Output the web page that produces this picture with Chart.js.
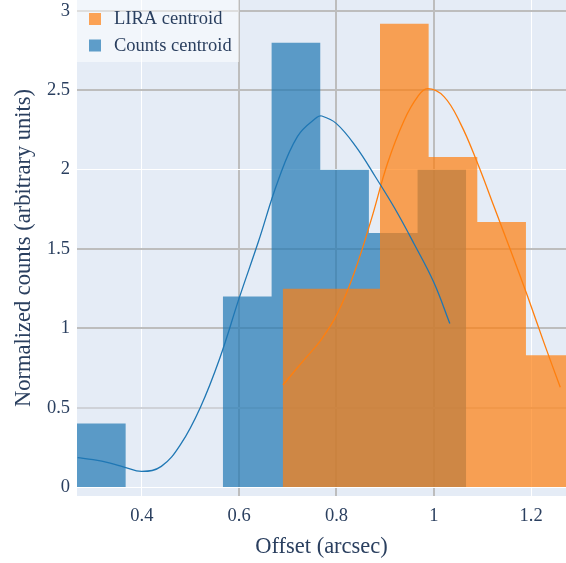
<!DOCTYPE html>
<html>
<head>
<meta charset="utf-8">
<script src="https://cdn.jsdelivr.net/npm/chart.js@4/dist/chart.umd.min.js"></script>
<style>
  html, body { margin: 0; padding: 0; background: #fff; }
  canvas { display: block; }
</style>
</head>
<body>
<canvas id="offsetChart" width="566" height="563"></canvas>
<script>
// histogram bin edges and normalized heights
const countsEdges = [0.2667, 0.3667, 0.4667, 0.5667, 0.6667, 0.7667, 0.8667, 0.9667, 1.0667];
const countsHeights = [0.4, 0, 0, 1.2, 2.8, 2.0, 1.6, 2.0];
const liraEdges = [0.6895, 0.7895, 0.8895, 0.9895, 1.0895, 1.1895, 1.2895];
const liraHeights = [1.25, 1.25, 2.92, 2.08, 1.67, 0.83];

// smoothed density curves
const countsKdeX = [0.268, 0.30, 0.335, 0.365, 0.40, 0.44, 0.48, 0.52, 0.56, 0.60, 0.64, 0.68, 0.72, 0.76, 0.77, 0.80, 0.84, 0.88, 0.92, 0.96, 1.00, 1.033];
const countsKdeY = [0.185, 0.172, 0.15, 0.124, 0.098, 0.13, 0.27, 0.5, 0.81, 1.19, 1.55, 1.93, 2.21, 2.33, 2.338, 2.29, 2.145, 1.955, 1.755, 1.53, 1.29, 1.03];
const liraKdeX = [0.69, 0.733, 0.768, 0.802, 0.836, 0.871, 0.905, 0.939, 0.967, 0.987, 1.021, 1.055, 1.09, 1.124, 1.158, 1.193, 1.227, 1.26];
const liraKdeY = [0.643, 0.80, 0.926, 1.094, 1.346, 1.68, 2.04, 2.31, 2.46, 2.51, 2.46, 2.29, 2.04, 1.766, 1.49, 1.2, 0.905, 0.628];

const xTicks = [0.4, 0.6, 0.8, 1, 1.2];
const yTicks = [0, 0.5, 1, 1.5, 2, 2.5, 3];

const textColor = "#2a3f5f";
const fontFamily = '"Liberation Serif", "Times New Roman", serif';
const blueFill = "rgba(31,119,180,0.7)";
const orangeFill = "rgba(255,127,14,0.7)";

// gridlines that show up darker in the picture
const darkX = [0.6, 0.8, 1];
const darkY = { 3: "#bdbdbd", 2.5: "#bdbdbd", 1.5: "#bdbdbd", 1: "#bdbdbd", 0.5: "#cfd2d8" };

function steps(edges, heights) {
  const pts = heights.map((h, i) => ({ x: edges[i], y: h }));
  pts.push({ x: edges[edges.length - 1], y: 0 });
  return pts;
}

function zip(xs, ys) {
  return xs.map((x, i) => ({ x: x, y: ys[i] }));
}

const plotBackground = {
  id: "plotBackground",
  beforeDraw(chart) {
    const { ctx, chartArea } = chart;
    ctx.save();
    ctx.fillStyle = "#E5ECF6";
    ctx.fillRect(chartArea.left, chartArea.top, chartArea.right - chartArea.left, chartArea.bottom - chartArea.top);
    ctx.restore();
  },
};

const legendBox = {
  id: "legendBox",
  afterDatasetsDraw(chart) {
    const { ctx, chartArea } = chart;
    const items = chart.data.datasets.filter((d) => d.fill);
    ctx.save();
    ctx.fillStyle = "rgba(255,255,255,0.5)";
    ctx.fillRect(chartArea.left, chartArea.top, 162, 62);
    ctx.font = "18.5px " + fontFamily;
    ctx.textBaseline = "middle";
    items.forEach((d, i) => {
      ctx.fillStyle = d.backgroundColor;
      ctx.fillRect(chartArea.left + 12, chartArea.top + 13 + i * 26.5, 12, 12);
      ctx.fillStyle = textColor;
      ctx.fillText(d.label, chartArea.left + 37, chartArea.top + 19.5 + i * 26.5);
    });
    ctx.restore();
  },
};

const ctx = document.getElementById("offsetChart");
new Chart(ctx, {
  type: "line",
  data: {
    datasets: [
      {
        label: "LIRA centroid",
        data: steps(liraEdges, liraHeights),
        stepped: true,
        fill: "origin",
        backgroundColor: orangeFill,
        borderColor: "rgba(0,0,0,0)",
        borderWidth: 0,
        pointRadius: 0,
        order: 2,
      },
      {
        label: "Counts centroid",
        data: steps(countsEdges, countsHeights),
        stepped: true,
        fill: "origin",
        backgroundColor: blueFill,
        borderColor: "rgba(0,0,0,0)",
        borderWidth: 0,
        pointRadius: 0,
        order: 3,
      },
      {
        label: "LIRA density",
        data: zip(liraKdeX, liraKdeY),
        fill: false,
        borderColor: "#ff7f0e",
        borderWidth: 1.3,
        pointRadius: 0,
        tension: 0.4,
        order: 1,
      },
      {
        label: "Counts density",
        data: zip(countsKdeX, countsKdeY),
        fill: false,
        borderColor: "#1f77b4",
        borderWidth: 1.3,
        pointRadius: 0,
        tension: 0.4,
        order: 0,
      },
    ],
  },
  options: {
    responsive: false,
    animation: false,
    layout: { padding: 0 },
    plugins: {
      legend: { display: false },
      tooltip: { enabled: false },
    },
    scales: {
      x: {
        type: "linear",
        min: 0.2667,
        max: 1.2718,
        afterBuildTicks: (axis) => {
          axis.ticks = xTicks.map((v) => ({ value: v }));
        },
        afterFit: (axis) => {
          axis.height = 67;
          axis.paddingLeft = 0;
          axis.paddingRight = 0;
        },
        border: { display: false },
        grid: {
          drawTicks: false,
          color: (c) => (darkX.includes(c.tick.value) ? "#bdbdbd" : "#ffffff"),
          lineWidth: (c) => (darkX.includes(c.tick.value) ? 2 : 1),
        },
        ticks: {
          padding: 9,
          autoSkip: false,
          maxRotation: 0,
          color: textColor,
          font: { family: fontFamily, size: 18.5 },
          callback: (v) => String(v),
        },
        title: {
          display: true,
          text: "Offset (arcsec)",
          color: textColor,
          font: { family: fontFamily, size: 22.5 },
          padding: { top: 0, bottom: 2 },
        },
      },
      y: {
        type: "linear",
        min: -0.0567,
        max: 3.069,
        afterBuildTicks: (axis) => {
          axis.ticks = yTicks.map((v) => ({ value: v }));
        },
        afterFit: (axis) => {
          axis.width = 77;
          axis.paddingTop = 0;
          axis.paddingBottom = 0;
        },
        border: { display: false },
        grid: {
          drawTicks: false,
          color: (c) => darkY[c.tick.value] || "#ffffff",
          lineWidth: (c) => (darkY[c.tick.value] ? 2 : 1),
        },
        ticks: {
          padding: 7,
          color: textColor,
          font: { family: fontFamily, size: 18.5 },
          callback: (v) => String(v),
        },
        title: {
          display: true,
          text: "Normalized counts (arbitrary units)",
          color: textColor,
          font: { family: fontFamily, size: 22.5 },
          padding: { top: 11, bottom: 0 },
        },
      },
    },
  },
  plugins: [plotBackground, legendBox],
});
</script>
</body>
</html>
